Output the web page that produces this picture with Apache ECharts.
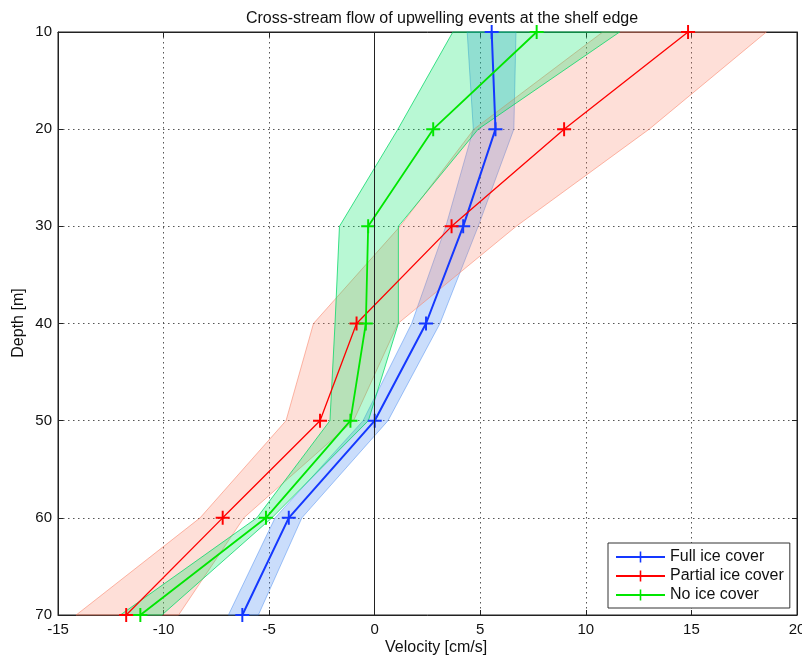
<!DOCTYPE html>
<html>
<head>
<meta charset="utf-8">
<script src="https://cdn.jsdelivr.net/npm/echarts@6/dist/echarts.min.js"></script>
<style>
  html, body { margin: 0; padding: 0; background: #fff; }
  #chart { width: 802px; height: 660px; }
</style>
</head>
<body>
<div id="chart"></div>
<script>
// Depth levels (m)
const depths = [10, 20, 30, 40, 50, 60, 70];

// Mean cross-stream velocity (cm/s) per ice regime
const fullIce    = [5.54, 5.72, 4.19, 2.43, 0.00, -4.07, -6.27];
const partialIce = [14.84, 8.97, 3.64, -0.86, -2.59, -7.20, -11.77];
const noIce      = [7.67, 2.77, -0.31, -0.42, -1.15, -5.15, -11.10];

// Uncertainty envelopes (lower / upper velocity, cm/s)
const fullIceLo    = [4.38, 4.67, 3.37, 1.75, -0.55, -4.72, -6.93];
const fullIceHi    = [6.69, 6.59, 4.90, 3.09, 0.63, -3.45, -5.51];
const partialIceLo = [10.80, 4.70, 1.20, -2.90, -4.20, -8.27, -14.14];
const partialIceHi = [18.55, 13.00, 6.70, 1.10, -1.00, -6.20, -9.29];
const noIceLo      = [3.70, 1.10, -1.67, -1.88, -2.12, -5.58, -12.05];
const noIceHi      = [11.60, 4.90, 1.12, 1.12, -0.30, -4.87, -10.08];

const FONT = '"Liberation Sans", Arial, sans-serif';
const CROSS = 'path://M-1,-0.14L1,-0.14L1,0.14L-1,0.14Z M-0.14,-1L0.14,-1L0.14,1L-0.14,1Z';

function pairs(xs) { return xs.map((v, i) => [v, depths[i]]); }

// Envelope polygon: down the lower edge, back up the upper edge
function bandSeries(lo, hi, fill, edge) {
  return {
    type: 'custom',
    silent: true,
    z: 1,
    data: depths.map((d, i) => [lo[i], hi[i], d]),
    encode: { x: [0, 1], y: 2 },
    renderItem: function (params, api) {
      if (params.dataIndex !== 0) return null;
      const pts = [];
      for (let i = 0; i < depths.length; i++) pts.push(api.coord([lo[i], depths[i]]));
      for (let i = depths.length - 1; i >= 0; i--) pts.push(api.coord([hi[i], depths[i]]));
      return {
        type: 'polygon',
        shape: { points: pts },
        style: { fill: fill, stroke: edge, lineWidth: 1 }
      };
    }
  };
}

function lineSeries(name, xs, color, width) {
  return {
    name: name,
    type: 'line',
    z: 3,
    clip: false,
    data: pairs(xs),
    symbol: CROSS,
    symbolSize: 14,
    showAllSymbol: true,
    lineStyle: { color: color, width: width },
    itemStyle: { color: color },
    emphasis: { disabled: true }
  };
}

const gridLine = { show: true, lineStyle: { color: '#555', type: [1.5, 3.5], width: 1 } };
const axisLine = { show: true, onZero: false, lineStyle: { color: '#222', width: 1 } };
const tick = { show: true, inside: true, length: 5, lineStyle: { color: '#222' } };

const chart = echarts.init(document.getElementById('chart'), null, { renderer: 'canvas' });

const blue = lineSeries('Full ice cover', fullIce, '#1438ff', 2);
blue.markLine = {
  silent: true,
  symbol: ['none', 'none'],
  label: { show: false },
  lineStyle: { color: '#222', width: 1, type: 'solid' },
  data: [{ xAxis: 0 }]
};

chart.setOption({
  animation: false,
  backgroundColor: '#fff',
  title: {
    text: 'Cross-stream flow of upwelling events at the shelf edge',
    left: 437, top: 6, textAlign: 'center',
    textStyle: { fontFamily: FONT, fontSize: 16, fontWeight: 'normal', color: '#111' }
  },
  grid: {
    left: 58, right: 5, top: 32, bottom: 45,
    outerBoundsMode: 'none', containLabel: false,
    show: true, borderColor: '#222', borderWidth: 1
  },
  xAxis: [{
    type: 'value', min: -15, max: 20, interval: 5,
    axisLine: axisLine, axisTick: tick, splitLine: gridLine,
    axisLabel: { fontFamily: FONT, fontSize: 15, color: '#111', margin: 7 }
  }, {
    type: 'value', min: -15, max: 20, interval: 5, position: 'top',
    axisLine: axisLine, axisTick: tick, splitLine: { show: false }, axisLabel: { show: false }
  }],
  yAxis: [{
    type: 'value', min: 10, max: 70, interval: 10, inverse: true,
    axisLine: axisLine, axisTick: tick, splitLine: gridLine,
    axisLabel: { fontFamily: FONT, fontSize: 15, color: '#111', margin: 6 }
  }, {
    type: 'value', min: 10, max: 70, interval: 10, inverse: true, position: 'right',
    axisLine: axisLine, axisTick: tick, splitLine: { show: false }, axisLabel: { show: false }
  }],
  legend: {
    data: ['Full ice cover', 'Partial ice cover', 'No ice cover'],
    orient: 'vertical',
    left: 608, top: 543,
    backgroundColor: '#fff',
    borderColor: '#333', borderWidth: 1, borderRadius: 0,
    padding: [6, 6, 5, 7],
    itemWidth: 49, itemHeight: 14, itemGap: 3,
    textStyle: { fontFamily: FONT, fontSize: 16, color: '#111' }
  },
  graphic: [
    { type: 'text', left: 437 - 52, top: 640, style: { text: 'Velocity [cm/s]', font: '16px ' + FONT, fill: '#111' } },
    { type: 'text', x: 11, y: 323, rotation: Math.PI / 2, style: { text: 'Depth [m]', font: '16px ' + FONT, fill: '#111', align: 'center', verticalAlign: 'top' } }
  ],
  series: [
    bandSeries(fullIceLo, fullIceHi, 'rgba(60,130,240,0.27)', 'rgba(60,130,240,0.45)'),
    bandSeries(partialIceLo, partialIceHi, 'rgba(250,128,100,0.25)', 'rgba(250,128,100,0.55)'),
    bandSeries(noIceLo, noIceHi, 'rgba(0,230,100,0.28)', 'rgba(0,215,100,0.75)'),
    blue,
    lineSeries('Partial ice cover', partialIce, '#ff0000', 1.3),
    lineSeries('No ice cover', noIce, '#00e600', 1.8)
  ]
});
</script>
</body>
</html>
